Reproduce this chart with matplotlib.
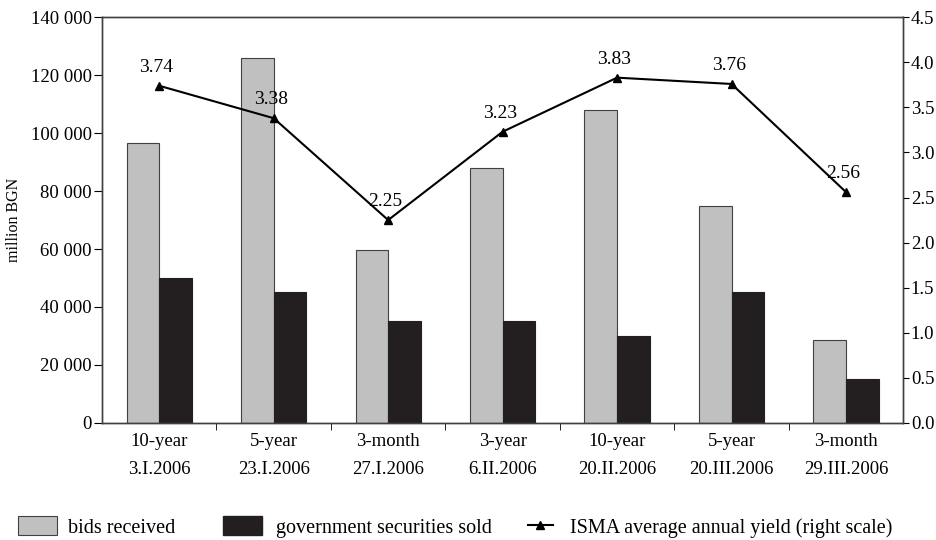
import matplotlib.pyplot as plt
import numpy as np
from matplotlib.lines import Line2D
from matplotlib.patches import Patch
from matplotlib.ticker import FuncFormatter, MultipleLocator

plt.rcParams["font.family"] = ["Liberation Serif", "DejaVu Serif"]
plt.rcParams["font.size"] = 13.5

# data
categories = [
    "10-year\n3.I.2006",
    "5-year\n23.I.2006",
    "3-month\n27.I.2006",
    "3-year\n6.II.2006",
    "10-year\n20.II.2006",
    "5-year\n20.III.2006",
    "3-month\n29.III.2006",
]
bids_received = [96500, 126000, 59700, 88000, 108000, 75000, 28500]
securities_sold = [50000, 45000, 35000, 35000, 30000, 45000, 15000]
isma_yield = [3.74, 3.38, 2.25, 3.23, 3.83, 3.76, 2.56]

gray = "#c0c0c0"
dark = "#231f20"

fig = plt.figure(figsize=(9.36, 5.4), dpi=100)
ax = fig.add_axes([0.109, 0.217, 0.856, 0.751])
ax2 = ax.twinx()

x = np.arange(len(categories))
w = 0.285
ax.bar(x - w / 2, bids_received, w, color=gray, edgecolor="#404040", linewidth=0.8)
ax.bar(x + w / 2, securities_sold, w, color=dark, edgecolor=dark, linewidth=0.8)

ax.set_xlim(-0.5, len(categories) - 0.5)
ax.set_ylim(0, 140000)
ax.yaxis.set_major_locator(MultipleLocator(20000))
ax.yaxis.set_major_formatter(FuncFormatter(lambda v, p: f"{int(v):,}".replace(",", " ")))
ax.set_ylabel("million BGN", fontsize=11.5)
ax.yaxis.set_label_coords(-0.1, 0.5)

# category labels centered, ticks on the group boundaries
ax.set_xticks(x)
ax.set_xticklabels(categories)
for lbl in ax.get_xticklabels():
    lbl.set_linespacing(1.9)
ax.tick_params(axis="x", length=0, pad=7)
ax.set_xticks(np.arange(0.5, len(categories) - 0.5), minor=True)
ax.tick_params(axis="x", which="minor", length=5, direction="out")
ax.tick_params(axis="y", length=6, pad=1.5, direction="out")

ax2.plot(x, isma_yield, color="black", linewidth=1.5, marker="^", markersize=6)
for xi, yi in zip(x, isma_yield):
    ax2.annotate(f"{yi:.2f}", (xi, yi), xytext=(-2, 7), textcoords="offset points",
                 ha="center", va="bottom", fontsize=14)
ax2.set_ylim(0, 4.5)
ax2.yaxis.set_major_locator(MultipleLocator(0.5))
ax2.yaxis.set_major_formatter(FuncFormatter(lambda v, p: f"{v:.1f}"))
ax2.tick_params(axis="y", length=4, pad=1.5, direction="out")

for a in (ax, ax2):
    for s in a.spines.values():
        s.set_color("#404040")
        s.set_linewidth(1.0)

legend_kw = dict(loc="center left", frameon=False, fontsize=14.5,
                 handleheight=1.05, borderpad=0, borderaxespad=0)
leg1 = fig.legend([Patch(facecolor=gray, edgecolor="#404040", linewidth=0.8)],
                  ["bids received"], bbox_to_anchor=(0.019, 0.024),
                  handlelength=1.95, handletextpad=0.55, **legend_kw)
leg2 = fig.legend([Patch(facecolor=dark, edgecolor=dark)],
                  ["government securities sold"], bbox_to_anchor=(0.238, 0.024),
                  handlelength=1.95, handletextpad=0.7, **legend_kw)
leg3 = fig.legend([Line2D([0], [0], color="black", linewidth=1.5, marker="^", markersize=6)],
                  ["ISMA average annual yield (right scale)"], bbox_to_anchor=(0.564, 0.024),
                  handlelength=1.25, handletextpad=0.85, **legend_kw)

fig.savefig("out.png", dpi=100)
